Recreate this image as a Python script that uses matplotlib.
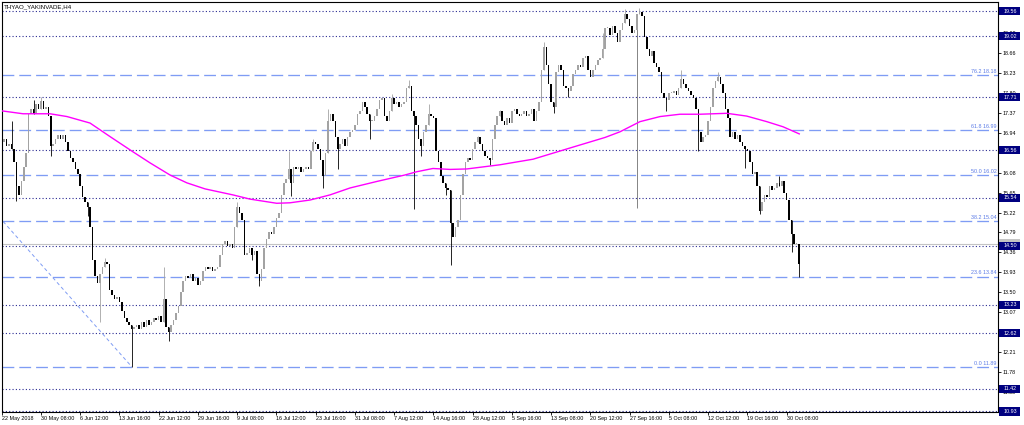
import matplotlib
matplotlib.use("Agg")
import matplotlib.pyplot as plt
from matplotlib.patches import Rectangle
from matplotlib.transforms import blended_transform_factory

plt.rcParams['font.family'] = ['Liberation Sans', 'DejaVu Sans']
plt.rcParams['lines.scale_dashes'] = False

# ---------------- data ----------------
title = "THYAO_YAKINVADE,H4"
first_open = 16.70
closes = [
    16.75, 16.80, 16.65, 16.70, 16.60, 16.30, 15.80, 15.60, 15.90, 16.20,
    16.50, 17.35, 17.45, 17.35, 17.55, 17.45, 17.62, 17.45, 17.50, 17.30,
    16.65, 16.70, 16.80, 16.90, 16.80, 16.90, 16.75, 16.55, 16.40, 16.30,
    16.15, 16.05, 15.80, 15.55, 15.45, 15.35, 14.90, 14.20, 13.85, 13.70,
    13.90, 14.05, 14.15, 14.10, 13.55, 13.45, 13.35, 13.40, 13.30, 13.10,
    12.95, 12.85, 12.80, 12.70, 12.75, 12.80, 12.70, 12.85, 12.75, 12.90,
    12.80, 12.85, 12.95, 12.90, 13.00, 12.85, 13.35, 12.75, 12.65, 12.80,
    12.90, 13.05, 13.20, 13.50, 13.75, 13.85, 13.80, 13.90, 13.75, 13.80,
    13.65, 13.75, 13.95, 14.05, 14.00, 14.05, 13.95, 14.00, 14.05, 14.30,
    14.55, 14.60, 14.50, 14.55, 14.45, 14.90, 15.35, 15.20, 15.05, 14.30,
    14.35, 14.45, 14.30, 14.40, 13.90, 13.75, 14.00, 14.45, 14.65, 14.80,
    14.75, 14.90, 15.10, 15.20, 15.60, 15.85, 15.95, 16.15, 15.85, 16.20,
    16.15, 16.20, 16.10, 16.15, 16.20, 16.15, 16.55, 16.75, 16.70, 16.60,
    16.35, 16.00, 16.50, 17.20, 17.35, 17.20, 16.85, 16.60, 16.70, 16.80,
    16.65, 16.85, 16.95, 17.00, 17.10, 17.35, 17.40, 17.60, 17.50, 17.35,
    17.20, 17.20, 17.30, 17.45, 17.65, 17.70, 17.30, 17.20, 17.40, 17.70,
    17.55, 17.60, 17.50, 17.55, 17.60, 17.90, 17.95, 17.40, 17.30, 17.10,
    16.80, 16.65, 16.95, 17.10, 17.35, 17.30, 17.25, 16.55, 16.30, 16.00,
    15.85, 15.75, 15.70, 15.00, 14.70, 14.90, 15.05, 15.60, 16.05, 16.30,
    16.40, 16.35, 16.60, 16.75, 16.85, 16.70, 16.55, 16.45, 16.40, 16.35,
    16.80, 17.10, 17.30, 17.40, 17.20, 17.10, 17.25, 17.15, 17.40, 17.45,
    17.35, 17.30, 17.35, 17.40, 17.30, 17.35, 17.45, 17.20, 17.40, 17.60,
    18.30, 18.80, 18.40, 18.00, 17.60, 17.50, 18.25, 18.40, 18.30, 17.95,
    17.90, 17.85, 17.95, 18.20, 18.30, 18.40, 18.35, 18.55, 18.60, 18.30,
    18.15, 18.30, 18.40, 18.50, 18.55, 18.75, 19.20, 19.20, 19.05, 19.25,
    19.10, 18.90, 19.15, 19.30, 19.50, 19.40, 19.25, 19.10, 19.15, 19.50,
    19.55, 19.45, 19.00, 18.75, 18.60, 18.70, 18.45, 18.35, 18.25, 17.80,
    17.70, 17.65, 17.80, 17.80, 17.85, 17.75, 17.90, 18.10, 18.00, 17.90,
    17.85, 17.75, 17.70, 17.45, 16.95, 16.75, 16.85, 16.90, 17.20, 17.50,
    17.90, 18.05, 18.15, 18.00, 17.80, 17.45, 17.25, 16.85, 16.95, 16.80,
    16.90, 16.75, 16.65, 16.60, 16.55, 16.30, 16.05, 16.10, 15.80, 15.25,
    15.45, 15.60, 15.55, 15.80, 15.70, 15.75, 15.85, 15.80, 15.90, 15.65,
    15.50, 15.05, 14.75, 14.55, 14.55, 14.10,
]
assert len(closes) == 326, len(closes)

# wick extremes (bar index -> price)
wick_highs = {4: 17.20, 13: 17.65, 16: 17.71, 42: 14.25, 66: 14.05, 96: 15.45,
              117: 16.55, 127: 16.80, 133: 17.45, 159: 17.77, 166: 18.08,
              174: 17.55, 194: 16.88, 203: 17.44, 221: 18.90, 245: 19.10,
              254: 19.60, 260: 19.63, 277: 18.30, 292: 18.26, 317: 16.00}
wick_lows = {6: 15.47, 20: 16.45, 35: 15.14, 40: 12.85, 53: 11.89, 68: 12.45,
             102: 14.20, 105: 13.63, 118: 15.57, 131: 15.75, 137: 16.15,
             150: 16.80, 168: 15.30, 171: 16.43, 181: 15.60, 183: 14.09,
             199: 16.25, 225: 17.36, 231: 17.71, 259: 15.31, 271: 17.40,
             284: 16.54, 303: 16.18, 309: 15.18, 322: 14.38, 325: 13.84}

# moving average (magenta) read at bar positions
ma_idx = [-1, 8.7, 19.7, 26.6, 36, 44.1, 53.5, 60.5, 68.6, 75.5, 82.9, 94.3,
          101.2, 112.1, 117.5, 125.7, 133.8, 142, 152.9, 164.4, 169.2, 175.8,
          182.8, 189.6, 203.1, 216.6, 230.3, 246, 252, 260.2, 268.4, 276.5,
          284.7, 295.6, 303.7, 311.9, 318.5, 325.4]
ma_val = [17.42, 17.35, 17.35, 17.29, 17.15, 16.86, 16.53, 16.29, 16.03, 15.86,
          15.73, 15.60, 15.51, 15.42, 15.43, 15.49, 15.60, 15.75, 15.89, 16.03,
          16.10, 16.17, 16.15, 16.16, 16.25, 16.37, 16.59, 16.84, 16.96, 17.18,
          17.29, 17.34, 17.34, 17.36, 17.30, 17.18, 17.07, 16.91]

# horizontal levels
hline_levels = [19.56, 19.02, 17.71, 16.56, 15.54, 14.50, 13.23, 12.62, 11.42, 10.93]
fib_ratios = ["0.0", "23.6", "38.2", "50.0", "61.8", "76.2"]
fib_levels = [11.89, 13.84, 15.04, 16.02, 16.99, 18.18]
fib_anchor_idx = [-85, 53.1]
fib_anchor_price = [20.14, 11.89]
bid_price = 14.54

# price-scale labels that remain (partly) visible next to the level boxes
price_ticks = [19.09, 18.66, 18.23, 17.80, 17.37, 16.94, 16.08,
               15.65, 15.22, 14.79, 14.36, 13.93, 13.50, 13.07, 12.21,
               11.78, 11.35]
time_tick_idx = list(range(0, 321, 16))
time_labels = ["22 May 2018", "30 May 08:00", "6 Jun 12:00", "13 Jun 16:00",
               "22 Jun 12:00", "29 Jun 16:00", "9 Jul 08:00", "16 Jul 12:00",
               "23 Jul 16:00", "31 Jul 08:00", "7 Aug 12:00", "14 Aug 16:00",
               "28 Aug 12:00", "5 Sep 16:00", "13 Sep 08:00", "20 Sep 12:00",
               "27 Sep 16:00", "5 Oct 08:00", "12 Oct 12:00", "19 Oct 16:00",
               "30 Oct 08:00"]

# ---------------- layout ----------------
W, H = 1024, 425
axL, axR, axT, axB = 1.5, 998.0, 2.0, 411.5
px_per_bar, bar0_px = 2.453, 1.7
ymin, ymax = 10.93, 19.76

fig = plt.figure(figsize=(W / 100, H / 100), dpi=100)
fig.patch.set_facecolor('white')
ax = fig.add_axes([axL / W, 1 - axB / H, (axR - axL) / W, (axB - axT) / H])
ax.set_xlim((axL - bar0_px) / px_per_bar, (axR - bar0_px) / px_per_bar)
ax.set_ylim(ymin, ymax)
xmax = (axR - bar0_px) / px_per_bar
px_per_unit = (axB - axT) / (ymax - ymin)

fibc = '#7f9cf4'

# horizontal dotted lines
for lv in hline_levels:
    ax.axhline(lv, color='#2a2a92', lw=0.8, ls=(0, (0.8, 1.6)), zorder=1)
# bid line
ax.axhline(bid_price, color='#c4c4c4', lw=0.8, zorder=1)
# fib lines
for lv, r in zip(fib_levels, fib_ratios):
    ax.axhline(lv, color=fibc, lw=0.95, ls=(0, (8.5, 3.6)), zorder=1)
    ax.text(xmax - 0.6, lv + 1.2 / px_per_unit, f"{r} {lv:.2f}", ha='right', va='bottom',
            fontsize=3.9, color='#5a7ae6', zorder=5)
ax.plot(fib_anchor_idx, fib_anchor_price, color=fibc, lw=0.7, ls=(0, (2.5, 2.0)), zorder=1)

# candles
opens = [first_open] + closes[:-1]
for i, (o, c) in enumerate(zip(opens, closes)):
    hi = max(o, c, wick_highs.get(i, max(o, c)))
    lo = min(o, c, wick_lows.get(i, min(o, c)))
    col = '#a3a3a3' if c >= o else '#000000'
    if hi > max(o, c) or lo < min(o, c):
        ax.vlines(i, lo, hi, color=col if i != 259 else '#707070', lw=0.6, zorder=2)
    h = max(abs(c - o), 0.02)
    ax.bar(i, h, bottom=min(o, c), width=0.62, color=col, lw=0, zorder=2)

# moving average
ax.plot(ma_idx, ma_val, color='#ff00ff', lw=1.0, zorder=3, solid_capstyle='butt')

# axes styling
for s in ax.spines.values():
    s.set_color('black')
    s.set_linewidth(0.8)
ax.yaxis.tick_right()
ax.set_yticks(price_ticks)
ax.set_yticklabels([f"{v:.2f}" for v in price_ticks])
ax.tick_params(axis='y', length=2.2, width=0.6, pad=0.8, labelsize=3.9, colors='black')
ax.set_xticks(time_tick_idx)
ax.set_xticklabels(time_labels, ha='left')
ax.tick_params(axis='x', length=2.2, width=0.6, pad=0.8, labelsize=3.9, colors='black')

# level boxes on the price axis
tr = blended_transform_factory(ax.transAxes, ax.transData)
box_w = 21.0 / (axR - axL)
box_h = 8.0 / px_per_unit
ax.add_patch(Rectangle((1.0015, bid_price - box_h / 2 + 1.5 / px_per_unit), box_w, box_h,
                       transform=tr, facecolor='#c4c4c4', edgecolor='none',
                       clip_on=False, zorder=6))
for lv in hline_levels:
    ax.add_patch(Rectangle((1.0015, lv - box_h / 2), box_w, box_h, transform=tr,
                           facecolor='#000080', edgecolor='none', clip_on=False, zorder=7))
    ax.text(1.0015 + box_w / 2, lv, f"{lv:.2f}", transform=tr, ha='center', va='center',
            fontsize=3.9, color='white', zorder=8, clip_on=False)

fig.text(4 / W, 1 - 7 / H, title, ha='left', va='center', fontsize=4.4, color='black')

fig.savefig('out.png', dpi=100, facecolor='white')
